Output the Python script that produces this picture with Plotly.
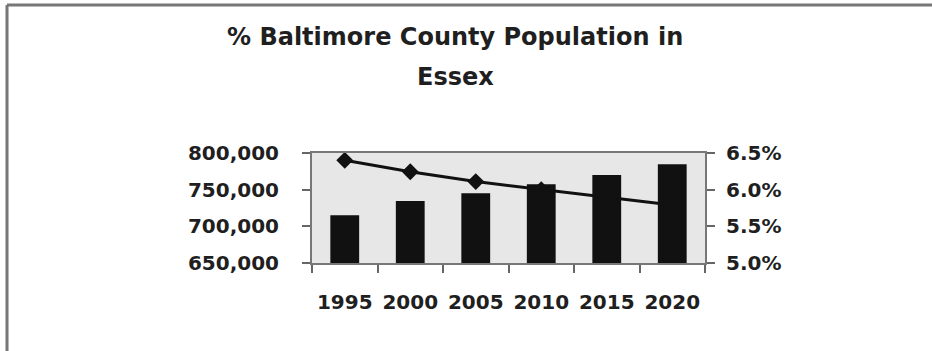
import plotly.graph_objects as go

years = ["1995", "2000", "2005", "2010", "2015", "2020"]
population = [715000, 734500, 745000, 757500, 770000, 784500]
pct_share = [0.0640, 0.06245, 0.0611, 0.0600, 0.0590, 0.0579]
title_lines = ["% Baltimore County Population in", "Essex"]

W, H = 932, 351
L, R, T, B = 312, 705, 153, 263
pw, ph = R - L, B - T


def px(x):
    return (x - L) / pw


def py(y):
    return (B - y) / ph


FONT = "DejaVu Sans"
TXT = "#1f1f1f"

fig = go.Figure()
fig.add_trace(go.Bar(x=years, y=population, marker=dict(color="#111111", line=dict(width=0)),
                     width=0.44, yaxis="y"))
fig.add_trace(go.Scatter(x=years, y=pct_share, yaxis="y2", mode="lines+markers",
                         line=dict(color="#111111", width=3),
                         marker=dict(symbol="diamond", size=13, color="#111111")))

axis_font = dict(family=FONT, size=20, color=TXT, weight="bold")

fig.update_layout(
    width=W, height=H,
    margin=dict(l=L, r=W - R, t=T, b=H - B, pad=0),
    paper_bgcolor="white", plot_bgcolor="#e7e7e7",
    showlegend=False, bargap=0.56,
    xaxis=dict(type="category", tickson="boundaries", ticks="outside", ticklen=8,
               tickcolor="#666", tickwidth=2, showline=True, linecolor="#777", linewidth=2,
               mirror=True, showgrid=False, tickfont=axis_font, tickangle=0,
               ticklabelstandoff=20),
    yaxis=dict(range=[650000, 800000], dtick=50000, tickformat=",", ticks="outside",
               ticklen=8, tickcolor="#666", tickwidth=2, showline=True, linecolor="#777",
               linewidth=2, showgrid=False, zeroline=False, tickfont=axis_font,
               ticklabelstandoff=19),
    yaxis2=dict(range=[0.05, 0.065], dtick=0.005, tickformat=".1%", overlaying="y",
                side="right", ticks="outside", ticklen=8, tickcolor="#666", tickwidth=2,
                showline=True, linecolor="#777", linewidth=2, showgrid=False,
                zeroline=False, tickfont=axis_font, ticklabelstandoff=7),
)

title_font = dict(family=FONT, size=24, color=TXT, weight="bold")
fig.add_annotation(text=title_lines[0], xref="paper", yref="paper", x=px(455), y=py(37),
                   xanchor="center", yanchor="middle", showarrow=False, font=title_font)
fig.add_annotation(text=title_lines[1], xref="paper", yref="paper", x=px(455), y=py(77),
                   xanchor="center", yanchor="middle", showarrow=False, font=title_font)

# outer frame (top and left edges)
fig.add_shape(type="line", xref="paper", yref="paper", x0=px(7), x1=px(W + 5),
              y0=py(5), y1=py(5), line=dict(color="#777", width=3))
fig.add_shape(type="line", xref="paper", yref="paper", x0=px(7), x1=px(7),
              y0=py(5), y1=py(H + 5), line=dict(color="#777", width=3))

fig.write_html("out.html")
